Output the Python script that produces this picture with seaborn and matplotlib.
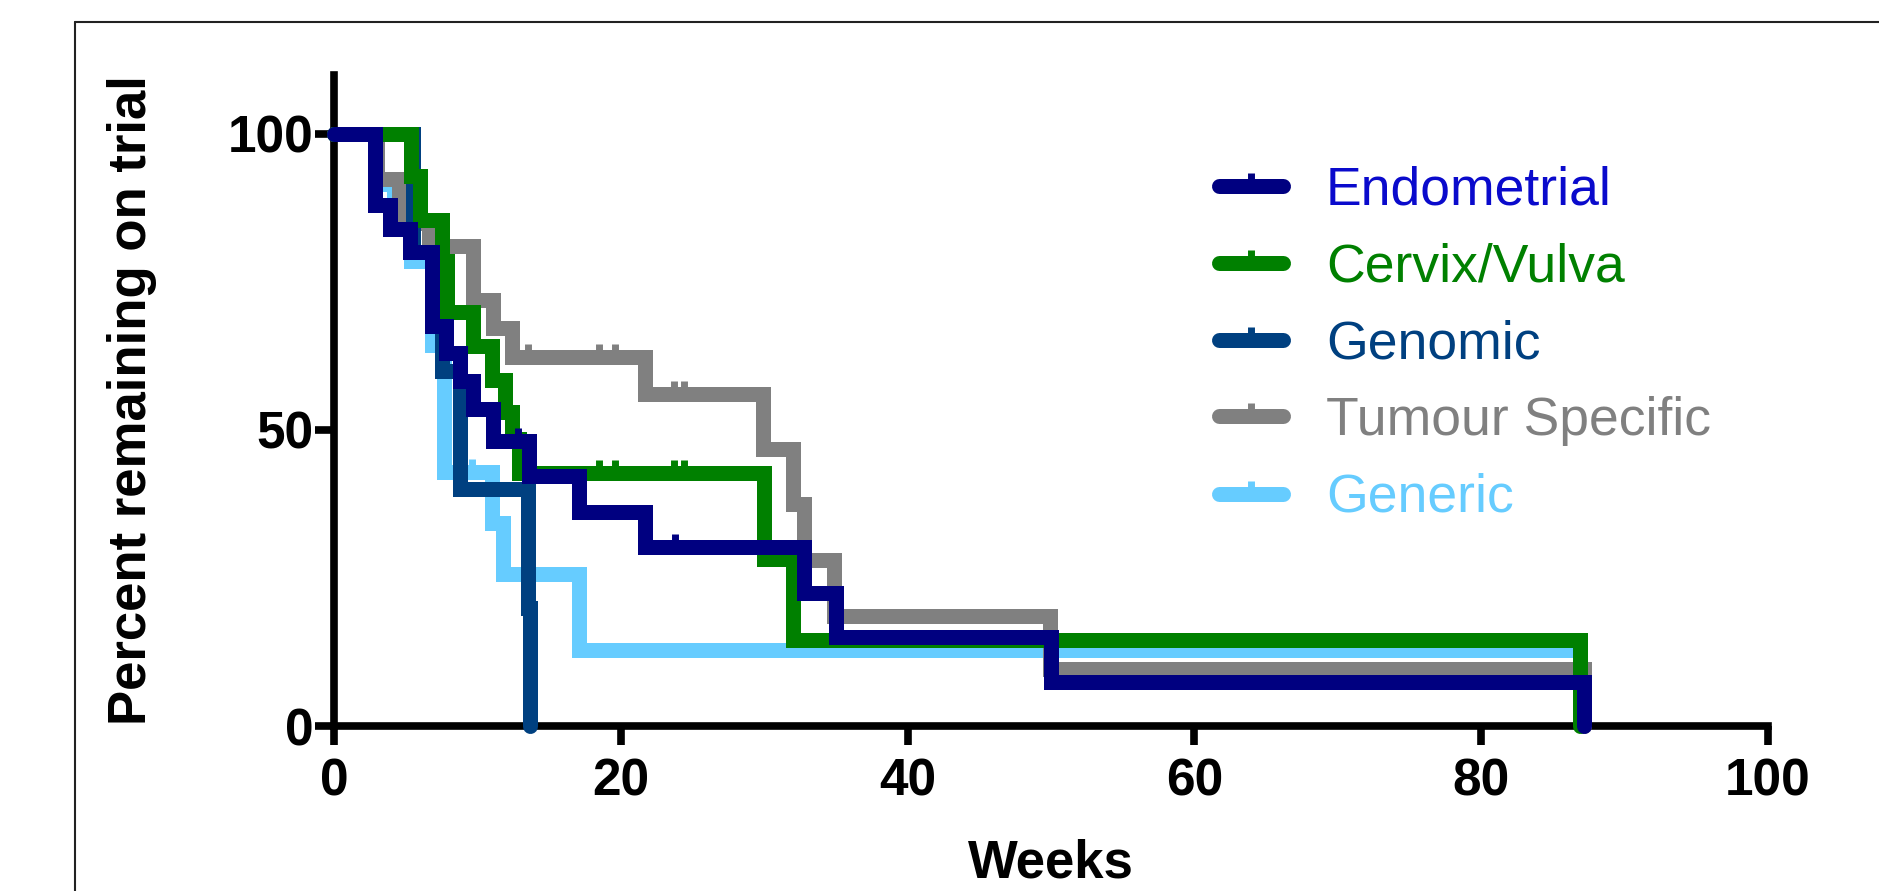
import numpy as np
import pandas as pd
import matplotlib
matplotlib.use("Agg")
import matplotlib.pyplot as plt
import seaborn as sns
from matplotlib.path import Path
from matplotlib.lines import Line2D

# ---------------- data ----------------
groups = ["Endometrial", "Cervix/Vulva", "Genomic", "Tumour Specific", "Generic"]

endo_weeks = [0, 2.85, 3.9, 5.3, 6.8, 7.8, 8.8, 9.7, 11.1, 13.6, 17.1, 21.7, 32.8, 35.0, 50.0, 87.2]
endo_pct = [100, 88.0, 84.0, 80.0, 67.5, 63.0, 58.3, 53.5, 48.2, 42.3, 36.1, 30.2, 22.5, 15.0, 7.5, 0]
endo_censor = [12.8, 23.8]

cerv_weeks = [0, 5.4, 6.0, 7.5, 7.9, 9.7, 11.0, 11.9, 12.4, 12.9, 30.0, 32.0, 86.9]
cerv_pct = [100, 92.9, 85.5, 78.5, 70.0, 64.2, 58.5, 53.0, 48.5, 42.8, 28.2, 14.5, 0]
cerv_censor = [18.5, 19.6, 23.7, 24.4]

geno_weeks = [0, 5.5, 7.5, 8.8, 13.5, 13.65]
geno_pct = [100, 80, 60, 40, 20, 0]
geno_censor = []

tumour_weeks = [0, 3.0, 4.5, 6.6, 9.7, 11.1, 12.4, 21.7, 29.9, 32.0, 32.8, 34.9, 49.9, 87.2]
tumour_pct = [100, 92.4, 85.0, 81.0, 72.0, 67.3, 62.3, 56.1, 46.8, 37.5, 28.0, 18.6, 9.7, 0]
tumour_censor = [13.5, 18.5, 19.6, 23.7, 24.4]

generic_weeks = [0, 3.0, 4.2, 5.35, 6.8, 7.7, 11.0, 11.8, 17.1, 86.4]
generic_pct = [100, 91.5, 86.5, 78.6, 64.3, 42.9, 34.3, 25.7, 12.9, 12.9]
generic_censor = [9.6]

line_colors = ["#000080", "#008000", "#004080", "#808080", "#66CCFF"]
text_colors = ["#0A0ACC", "#008000", "#004080", "#808080", "#66CCFF"]

x_ticks = [0, 20, 40, 60, 80, 100]
y_ticks = [0, 50, 100]

series = {
    "Endometrial": (endo_weeks, endo_pct, endo_censor),
    "Cervix/Vulva": (cerv_weeks, cerv_pct, cerv_censor),
    "Genomic": (geno_weeks, geno_pct, geno_censor),
    "Tumour Specific": (tumour_weeks, tumour_pct, tumour_censor),
    "Generic": (generic_weeks, generic_pct, generic_censor),
}

# ---------------- style ----------------
sns.set_theme(style="ticks")
plt.rcParams['font.family'] = ['Liberation Sans', 'DejaVu Sans']

W, H = 1879, 891
fig = plt.figure(figsize=(W / 100, H / 100), dpi=100)
fig.patch.set_facecolor("white")

ax_left, ax_right, ax_bottom, ax_top = 334, 1768, 726, 74.8
ax = fig.add_axes([ax_left / W, 1 - ax_bottom / H, (ax_right - ax_left) / W, (ax_bottom - ax_top) / H])
ax.set_facecolor("white")

LW = 10.8
# upward tick marker for censored observations
tick_marker = Path([(0, 0), (0, 1)], [Path.MOVETO, Path.LINETO])
TICK_MS = 18.5
TICK_MEW = 5.0

# draw order: Generic at bottom, Endometrial on top
draw_order = ["Generic", "Tumour Specific", "Genomic", "Cervix/Vulva", "Endometrial"]
for z, name in enumerate(draw_order):
    weeks, pct, cens = series[name]
    col = line_colors[groups.index(name)]
    df = pd.DataFrame({"Weeks": weeks, "Percent": pct})
    sns.lineplot(data=df, x="Weeks", y="Percent", ax=ax, color=col, linewidth=LW,
                 drawstyle="steps-post", estimator=None, sort=False,
                 solid_capstyle="round", solid_joinstyle="miter",
                 clip_on=False, zorder=4 + z)
    if len(cens):
        w = np.asarray(weeks)
        p = np.asarray(pct)
        idx = np.searchsorted(w, cens, side="right") - 1
        ax.plot(cens, p[idx], linestyle="none", marker=tick_marker, markersize=TICK_MS,
                markeredgewidth=TICK_MEW, color=col, clip_on=False, zorder=4 + z + 0.5)

# ---------------- axes ----------------
ax.set_xlim(0, 100)
ax.set_ylim(0, 110)
ax.set_xticks(x_ticks)
ax.set_yticks(y_ticks)
for s in ["top", "right"]:
    ax.spines[s].set_visible(False)
for s in ["left", "bottom"]:
    ax.spines[s].set_linewidth(5.5)
    ax.spines[s].set_color("black")
    ax.spines[s].set_zorder(2.5)
ax.tick_params(axis="both", direction="out", length=14, width=5.5, color="black",
               labelsize=37, labelcolor="black")
ax.tick_params(axis="x", pad=9)
ax.tick_params(axis="y", pad=1)
for lab in ax.get_xticklabels() + ax.get_yticklabels():
    lab.set_fontweight("bold")
ax.grid(False)

ax.set_xlabel("Weeks", fontsize=38, fontweight="bold", color="black")
ax.set_ylabel("Percent remaining on trial", fontsize=38, fontweight="bold", color="black")
ax.xaxis.label.set_va("center")
ax.yaxis.label.set_va("center")
ax.xaxis.set_label_coords(0.5, (ax_bottom - 863) / (ax_bottom - ax_top))
ax.yaxis.set_label_coords((132 - ax_left) / (ax_right - ax_left), 0.5)

# ---------------- legend (drawn manually to mimic the GraphPad style) ----------------
aw = ax_right - ax_left
ah = ax_bottom - ax_top
row_y = [185.7, 263.0, 340.5, 416.5, 493.5]
seg_x0, seg_x1, text_x = 1218.5, 1282.5, 1326
for i, name in enumerate(groups):
    yc = (ax_bottom - row_y[i]) / ah
    yb = (ax_bottom - (row_y[i] + 18.5)) / ah
    x0 = (seg_x0 - ax_left) / aw
    x1 = (seg_x1 - ax_left) / aw
    ax.plot([x0, x1], [yc, yc], transform=ax.transAxes, color=line_colors[i], linewidth=LW,
            solid_capstyle="round", clip_on=False, zorder=10)
    ax.plot([(x0 + x1) / 2], [yc], transform=ax.transAxes, linestyle="none", marker=tick_marker,
            markersize=TICK_MS, markeredgewidth=TICK_MEW, color=line_colors[i], clip_on=False, zorder=10)
    ax.text((text_x - ax_left) / aw, yb, name, transform=ax.transAxes, fontsize=38.5,
            color=text_colors[i], ha="left", va="baseline")

# ---------------- frame lines of the figure ----------------
fx = 74.5 / W
fy = 1 - 21.5 / H
fig.add_artist(Line2D([fx, fx], [0, fy], transform=fig.transFigure, color="#222222", linewidth=1.5))
fig.add_artist(Line2D([fx, 1], [fy, fy], transform=fig.transFigure, color="#222222", linewidth=1.5))

fig.savefig("out.png", dpi=100, facecolor="white")
